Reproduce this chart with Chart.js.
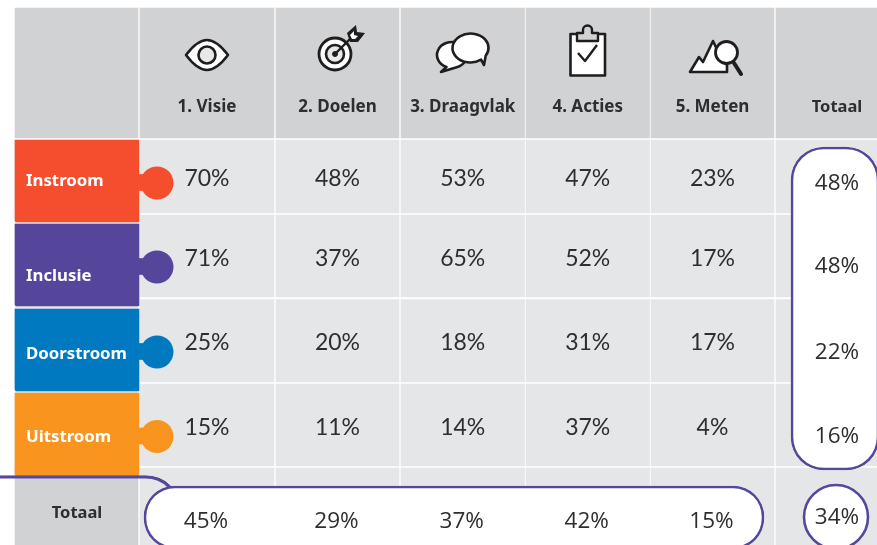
<!DOCTYPE html>
<html>
<head>
<meta charset="utf-8">
<title>Puzzle tabel</title>
<script src="https://cdn.jsdelivr.net/npm/chart.js@4"></script>
<style>
  html, body { margin: 0; padding: 0; background: #fff; overflow: hidden; }
  canvas { display: block; }
</style>
</head>
<body>
<canvas id="chart" width="877" height="545"></canvas>
<script>
// data
const columnLabels = ['1. Visie', '2. Doelen', '3. Draagvlak', '4. Acties', '5. Meten'];
const rowLabels = ['Instroom', 'Inclusie', 'Doorstroom', 'Uitstroom'];
const totalLabel = 'Totaal';
const instroom = [70, 48, 53, 47, 23];
const inclusie = [71, 37, 65, 52, 17];
const doorstroom = [25, 20, 18, 31, 17];
const uitstroom = [15, 11, 14, 37, 4];
const columnTotals = [45, 29, 37, 42, 15];
const rowTotals = [48, 48, 22, 16];
const grandTotal = 34;

// layout, in canvas pixels (both scales run 0-877 / 0-545)
const colEdges = [[15, 138], [140, 274], [276, 399], [401, 524.5], [526, 649.5], [651, 774], [776, 898]];
const rowEdges = [[8, 138], [140, 213], [215, 297], [299.5, 382], [384, 466], [468, 560]];
const tagEdges = [[140, 222], [224, 306], [309, 391], [393, 476]];
const tagColors = ['#f44e2f', '#55469c', '#0079c1', '#f9951f'];
const tagTextY = [181, 276, 354, 437];
const cellTextY = [178.5, 258.5, 342.5, 427.5, 522];
const totalTextY = [184, 267, 353, 437, 518];
const headerGrey = '#d1d2d4';
const cellGrey = '#e5e6e8';
const purple = '#54479d';
const ink = '#2e2d2f';

const rows = [instroom, inclusie, doorstroom, uitstroom];
const mid = (e) => (e[0] + e[1]) / 2;
const thick = (e) => e[1] - e[0];

const datasets = [];

// one bar dataset per table column
colEdges.forEach((col, c) => {
    datasets.push({
        type: 'bar',
        grouped: false,
        data: rowEdges.map((r) => ({ x: mid(col), y: r })),
        barThickness: thick(col),
        maxBarThickness: thick(col),
        backgroundColor: (ctx) => (ctx.dataIndex === 0 || (c === 0 && ctx.dataIndex === 5)) ? headerGrey : cellGrey,
        borderWidth: 0
    });
});

// coloured puzzle pieces
datasets.push({
    type: 'bar',
    grouped: false,
    data: tagEdges.map((r) => ({ x: 77, y: r })),
    barThickness: 124,
    maxBarThickness: 124,
    backgroundColor: tagColors,
    borderWidth: 0,
    borderRadius: { topLeft: 4, topRight: 1, bottomLeft: 2, bottomRight: 1 }
});
datasets.push({
    type: 'bar',
    grouped: false,
    data: tagEdges.map((r) => ({ x: 141.5, y: [mid(r) - 6.5, mid(r) + 9.5] })),
    barThickness: 7,
    maxBarThickness: 7,
    backgroundColor: tagColors,
    borderWidth: 0
});
datasets.push({
    type: 'bubble',
    data: tagEdges.map((r) => ({ x: 157, y: mid(r) + 2, r: 16.5 })),
    backgroundColor: tagColors,
    borderWidth: 0
});

// purple outlines
const outline = (x, y, bg, radius) => ({
    type: 'bar',
    grouped: false,
    data: [{ x: mid(x), y: y }],
    barThickness: thick(x),
    maxBarThickness: thick(x),
    backgroundColor: bg,
    borderColor: purple,
    borderWidth: 2.6,
    borderSkipped: false,
    borderRadius: radius
});
datasets.push(outline([-60, 180], [475.5, 600], 'rgba(0,0,0,0)', 34));
datasets.push(outline([144, 764], [486, 549], '#fff', 31));
datasets.push(outline([791, 879], [147, 470], '#fff', 33));
datasets.push({
    type: 'bubble',
    data: [{ x: 836, y: 517, r: 32 }],
    backgroundColor: '#fff',
    borderColor: purple,
    borderWidth: 2.6
});

// first dataset is painted on top unless order is set
datasets.forEach((d, i) => { d.order = datasets.length - i; });

function drawIcons(ctx) {
    const shape = (fill, width, path) => {
        ctx.beginPath();
        path();
        if (fill) { ctx.fillStyle = fill; ctx.fill(); }
        ctx.lineWidth = width;
        ctx.strokeStyle = '#1f1d1e';
        ctx.stroke();
    };
    ctx.save();
    ctx.lineJoin = 'round';

    // eye
    shape('#fff', 2.6, () => {
        ctx.moveTo(186, 55);
        ctx.bezierCurveTo(192, 47, 199, 40, 207, 40);
        ctx.bezierCurveTo(215, 40, 222, 47, 228, 55);
        ctx.bezierCurveTo(222, 63, 215, 70, 207, 70);
        ctx.bezierCurveTo(199, 70, 192, 63, 186, 55);
        ctx.closePath();
    });
    shape('#e8e8e9', 2.6, () => ctx.arc(207, 55, 8.5, 0, Math.PI * 2));

    // target
    shape('#fff', 2.8, () => ctx.arc(335, 54, 16, 0, Math.PI * 2));
    shape('#e8e8e9', 2.6, () => ctx.arc(335, 54, 9, 0, Math.PI * 2));
    shape('#1f1d1e', 1, () => ctx.arc(335, 54, 2.5, 0, Math.PI * 2));
    shape('#1f1d1e', 2.4, () => { ctx.moveTo(335, 54); ctx.lineTo(350, 39); });
    ctx.fillStyle = '#1f1d1e';
    ctx.beginPath();
    [[347, 33], [356, 25], [357, 32], [365, 33], [358, 42], [350, 42]].forEach((p) => ctx.lineTo(p[0], p[1]));
    ctx.closePath();
    ctx.fill();
    ctx.fillStyle = '#fff';
    ctx.beginPath();
    [[350, 35], [354, 31], [354, 35], [358, 36], [355, 39], [352, 39]].forEach((p) => ctx.lineTo(p[0], p[1]));
    ctx.closePath();
    ctx.fill();

    // speech bubbles
    shape('#fff', 2.6, () => {
        ctx.ellipse(452, 55, 15, 13, 0, Math.PI * 0.62, Math.PI * 0.4 + Math.PI * 2);
        ctx.lineTo(441, 72);
        ctx.closePath();
    });
    shape('#fff', 2.6, () => {
        ctx.ellipse(470.5, 48, 18, 14.5, 0, Math.PI * 0.3, Math.PI * 0.18 + Math.PI * 2);
        ctx.lineTo(484, 65);
        ctx.closePath();
    });

    // clipboard
    shape('#fff', 2.6, () => ctx.rect(570.5, 34, 34.5, 41.5));
    shape(headerGrey, 2.4, () => {
        ctx.moveTo(577, 41);
        ctx.lineTo(577, 33);
        ctx.lineTo(583, 33);
        ctx.arc(587.5, 30, 4.5, Math.PI, 0);
        ctx.lineTo(592, 33);
        ctx.lineTo(598, 33);
        ctx.lineTo(598, 41);
        ctx.closePath();
    });
    shape(null, 2.4, () => { ctx.moveTo(578, 53); ctx.lineTo(585, 61); ctx.lineTo(597, 45); });

    // mountain with magnifier
    shape('#fff', 2.6, () => {
        ctx.moveTo(690, 72);
        ctx.lineTo(699, 57);
        ctx.lineTo(703, 62);
        ctx.lineTo(713, 41);
        ctx.lineTo(722, 60);
        ctx.lineTo(727, 65);
        ctx.lineTo(727, 72);
        ctx.closePath();
    });
    shape('#fff', 2.8, () => ctx.arc(726.5, 52.5, 11, 0, Math.PI * 2));
    ctx.lineCap = 'round';
    shape(null, 4, () => { ctx.moveTo(734, 63); ctx.lineTo(741, 74); });
    ctx.restore();
}

const tableText = {
    id: 'tableText',
    afterDatasetsDraw(chart) {
        const { ctx, scales: { x, y } } = chart;
        const text = (str, vx, vy, font, color, align) => {
            ctx.font = font;
            ctx.fillStyle = color;
            ctx.textAlign = align || 'center';
            ctx.textBaseline = 'middle';
            ctx.fillText(str, x.getPixelForValue(vx), y.getPixelForValue(vy));
        };
        const headFont = '700 17px "Noto Sans"';
        const totalHeadFont = '700 16.5px "Noto Sans"';
        const tagFont = '700 16.8px "Noto Sans"';
        const valueFont = '400 23px Lato';
        const totalFont = '400 22.5px "Open Sans"';

        drawIcons(ctx);

        columnLabels.forEach((l, c) => text(l, mid(colEdges[c + 1]), 107, headFont, ink));
        text(totalLabel, mid(colEdges[6]), 107, totalHeadFont, ink);
        text(totalLabel, 77, 513, totalHeadFont, ink);

        rowLabels.forEach((l, r) => text(l, 26, tagTextY[r], tagFont, '#fff', 'left'));

        rows.forEach((vals, r) => {
            vals.forEach((v, c) => text(v + '%', mid(colEdges[c + 1]), cellTextY[r], valueFont, ink));
            text(rowTotals[r] + '%', mid(colEdges[6]), totalTextY[r], totalFont, ink);
        });
        columnTotals.forEach((v, c) => text(v + '%', mid(colEdges[c + 1]) - 1, cellTextY[4], totalFont, ink));
        text(grandTotal + '%', mid(colEdges[6]), totalTextY[4], totalFont, ink);
    }
};

new Chart(document.getElementById('chart').getContext('2d'), {
    type: 'bar',
    data: { datasets: datasets },
    options: {
        responsive: false,
        animation: false,
        events: [],
        layout: { padding: 0, autoPadding: false },
        plugins: { legend: { display: false }, tooltip: { enabled: false } },
        scales: {
            x: { type: 'linear', display: false, offset: false, min: 0, max: 877 },
            y: { type: 'linear', display: false, reverse: true, min: 0, max: 545 }
        }
    },
    plugins: [tableText]
});
</script>
</body>
</html>
